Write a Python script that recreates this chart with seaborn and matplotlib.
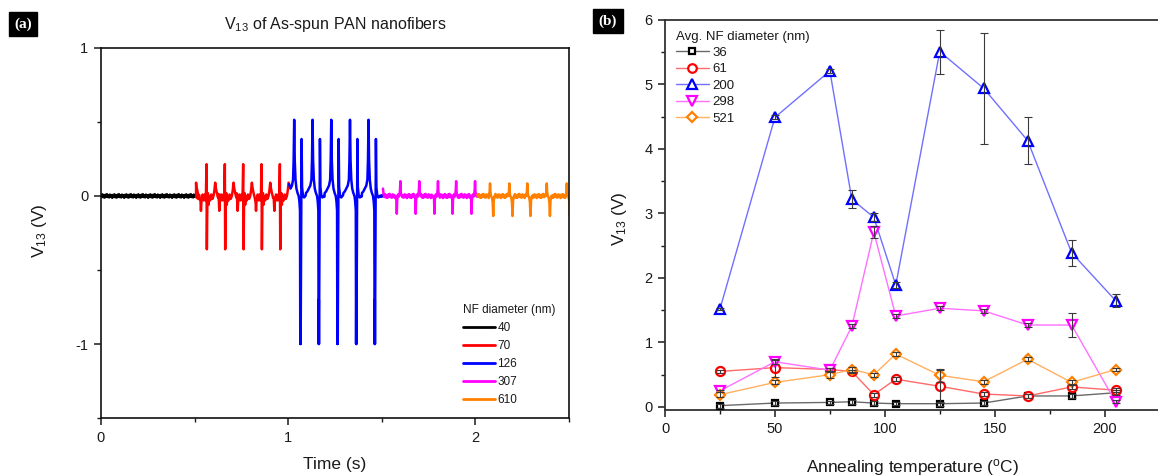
import numpy as np
import pandas as pd
import matplotlib
matplotlib.use("Agg")
import matplotlib.pyplot as plt
from matplotlib.lines import Line2D
from matplotlib.ticker import MultipleLocator
import seaborn as sns

# ---------------- panel (a): V13 traces of as-spun PAN nanofibers ----------------
diameters_a = ["40", "70", "126", "307", "610"]
colors_a = ["#000000", "#ff0000", "#0000ff", "#ff00ff", "#ff8000"]
segment_start = [0.0, 0.508, 1.005, 1.510, 2.011]
segment_end = [0.508, 1.005, 1.510, 2.011, 2.52]
noise_amp = [0.012, 0.028, 0.006, 0.014, 0.014]

spikes_40 = []
spikes_70 = [0.565, 0.663, 0.761, 0.859, 0.957]
spikes_126 = [1.032, 1.130, 1.230, 1.330, 1.429]
spikes_307 = [1.599, 1.700, 1.800, 1.897, 1.998]
spikes_610 = [2.078, 2.181, 2.277, 2.381, 2.488]

# pulse shapes as (time offset from spike, voltage)
pulse_40 = [(0.0, 0.0)]
pulse_70 = [(-0.034, -0.02), (-0.031, -0.10), (-0.028, -0.03), (-0.022, 0.01),
            (-0.016, -0.03), (-0.010, 0.01), (-0.005, -0.03), (-0.0015, 0.215),
            (0.0005, -0.36), (0.003, -0.06), (0.006, 0.02), (0.009, -0.06),
            (0.013, 0.0), (0.018, -0.03), (0.024, 0.01), (0.030, -0.02),
            (0.036, 0.0), (0.041, 0.04), (0.045, 0.09), (0.049, 0.05),
            (0.054, 0.02), (0.060, -0.01)]
pulse_126 = [(-0.035, 0.02), (-0.028, 0.03), (-0.020, 0.05), (-0.012, 0.07),
             (-0.006, 0.11), (-0.003, 0.24), (0.0, 0.515), (0.003, 0.24),
             (0.007, 0.11), (0.012, 0.05), (0.018, 0.02), (0.024, 0.0),
             (0.028, -0.04), (0.031, -0.10), (0.0325, -1.0), (0.0335, -0.70),
             (0.0345, -1.0), (0.037, -0.30), (0.0395, 0.385), (0.042, 0.06),
             (0.047, 0.0), (0.053, -0.01), (0.060, 0.0)]
pulse_307 = [(-0.026, 0.0), (-0.021, -0.02), (-0.019, -0.12), (-0.017, -0.03),
             (-0.013, 0.01), (-0.008, -0.005), (-0.004, 0.015), (-0.0015, 0.05),
             (0.0, 0.10), (0.0015, 0.04), (0.004, 0.01), (0.008, 0.0)]
pulse_610 = [(-0.006, 0.0), (-0.002, 0.03), (0.0, 0.085), (0.002, 0.03),
             (0.005, 0.0), (0.010, -0.01), (0.014, -0.04), (0.017, -0.135),
             (0.020, -0.03), (0.025, 0.0)]

# vertices at the joints between recordings
joint_40 = []
joint_70 = [(0.508, 0.09), (0.512, 0.05), (0.517, 0.01)]
joint_126 = [(1.005, 0.08)]
joint_307 = [(1.506, 0.05)]
joint_610 = []

# baseline ripple of the recordings (relative units)
ripple = [0.6, -0.5, 0.9, -0.7, 0.3, -0.9, 0.7, -0.3, 1.0, -0.6, 0.4, -0.8,
          0.8, -0.4, 0.5, -1.0]

# ---------------- panel (b): V13 vs annealing temperature ----------------
temps = [25, 50, 75, 85, 95, 105, 125, 145, 165, 185, 205]
v_36 = [0.02, 0.06, 0.07, 0.08, 0.06, 0.05, 0.05, 0.06, 0.17, 0.17, 0.22]
v_61 = [0.55, 0.61, 0.58, 0.55, 0.19, 0.43, 0.32, 0.20, 0.17, 0.31, 0.26]
v_200 = [1.52, 4.49, 5.21, 3.22, 2.94, 1.89, 5.51, 4.94, 4.13, 2.39, 1.65]
v_298 = [0.25, 0.70, 0.57, 1.25, 2.71, 1.41, 1.53, 1.49, 1.27, 1.27, 0.08]
v_521 = [0.19, 0.38, 0.50, 0.58, 0.50, 0.82, 0.49, 0.39, 0.74, 0.38, 0.58]
e_36 = [0.03, 0.03, 0.02, 0.03, 0.03, 0.02, 0.03, 0.03, 0.03, 0.03, 0.04]
e_61 = [0.03, 0.14, 0.03, 0.03, 0.03, 0.03, 0.26, 0.03, 0.03, 0.03, 0.03]
e_200 = [0.02, 0.03, 0.03, 0.14, 0.06, 0.04, 0.34, 0.86, 0.37, 0.20, 0.10]
e_298 = [0.02, 0.03, 0.03, 0.03, 0.09, 0.03, 0.03, 0.03, 0.03, 0.18, 0.02]
e_521 = [0.04, 0.03, 0.05, 0.04, 0.03, 0.03, 0.10, 0.03, 0.03, 0.03, 0.03]
diameters_b = ["36", "61", "200", "298", "521"]
edge_b = ["#000000", "#ff0000", "#0000ff", "#ff00ff", "#ff8000"]
line_b = ["#6a6a6a", "#ff6a6a", "#7070ff", "#ff70ff", "#ffb060"]
markers_b = ["s", "o", "^", "v", "D"]
msize_b = [5.0, 6.5, 7.5, 7.5, 5.6]

sns.set_theme(style="ticks")
plt.rcParams["font.family"] = ["Liberation Sans", "DejaVu Sans"]
plt.rcParams["mathtext.fontset"] = "custom"
plt.rcParams["mathtext.rm"] = "Liberation Sans"
plt.rcParams["mathtext.it"] = "Liberation Sans:italic"
plt.rcParams["mathtext.default"] = "regular"
plt.rcParams["text.color"] = "#1a1a1a"
plt.rcParams["axes.labelcolor"] = "#1a1a1a"
plt.rcParams["xtick.color"] = "#1a1a1a"
plt.rcParams["ytick.color"] = "#1a1a1a"


def build_trace(start, end, spikes, pulse, amp, joint):
    offs = [o for o, _ in pulse]
    lo, hi = min(offs), max(offs)
    pts = []
    for i, t in enumerate(np.arange(start, end, 0.004)):
        if any(s + lo <= t <= s + hi for s in spikes):
            continue
        pts.append((t, amp * ripple[i % len(ripple)]))
    for s in spikes:
        pts += [(s + o, v) for o, v in pulse if start <= s + o <= end]
    pts += list(joint)
    pts.sort()
    return pts


spike_sets = [spikes_40, spikes_70, spikes_126, spikes_307, spikes_610]
pulses = [pulse_40, pulse_70, pulse_126, pulse_307, pulse_610]
joints = [joint_40, joint_70, joint_126, joint_307, joint_610]
frames = []
for k, name in enumerate(diameters_a):
    pts = build_trace(segment_start[k], segment_end[k], spike_sets[k], pulses[k],
                      noise_amp[k], joints[k])
    frames.append(pd.DataFrame({"t": [p[0] for p in pts],
                                "v": [p[1] for p in pts],
                                "d": name}))
df_a = pd.concat(frames, ignore_index=True)

fig = plt.figure(figsize=(11.58, 4.76), dpi=100)
axA = fig.add_axes([0.0872, 0.1218, 0.4042, 0.7774])
axB = fig.add_axes([0.5743, 0.1397, 0.4270, 0.8183])

sns.lineplot(data=df_a, x="t", y="v", hue="d", hue_order=diameters_a,
             palette=colors_a, estimator=None, sort=False, lw=1.8,
             legend=False, ax=axA)
axA.set_xlim(0, 2.5)
axA.set_ylim(-1.5, 1)
axA.set_xticks([0, 1, 2])
axA.set_xticklabels(["0", "1", "2"])
axA.xaxis.set_minor_locator(MultipleLocator(0.5))
axA.set_yticks([-1, 0, 1])
axA.set_yticklabels(["-1", "0", "1"])
axA.yaxis.set_minor_locator(MultipleLocator(0.5))
axA.set_xlabel("Time (s)", fontsize=12.5)
axA.set_ylabel(r"V$_{13}$ (V)", fontsize=12.5)
axA.xaxis.set_label_coords(0.5, -0.104)
axA.yaxis.set_label_coords(-0.11, 0.505)
axA.set_title(r"V$_{13}$ of As-spun PAN nanofibers", fontsize=11.5, pad=14)
for sp in axA.spines.values():
    sp.set_linewidth(1.2)
    sp.set_color("#111111")
axA.tick_params(which="major", direction="out", length=5, width=1.1,
                labelsize=10.5, pad=4)
axA.tick_params(which="minor", direction="out", length=3, width=1.0)

handles_a = [Line2D([], [], color=c, lw=2.0) for c in colors_a]
legA = axA.legend(handles_a, diameters_a, title="NF diameter (nm)",
                  frameon=False, loc="lower left",
                  bbox_to_anchor=(0.755, 0.011), fontsize=8.5,
                  title_fontsize=8.5, handlelength=2.7, handletextpad=0.25,
                  labelspacing=0.5, alignment="left", borderaxespad=0.3)

# ---- panel (b)
series_v = [v_36, v_61, v_200, v_298, v_521]
series_e = [e_36, e_61, e_200, e_298, e_521]
for k in range(5):
    sns.lineplot(x=temps, y=series_v[k], ax=axB, color=line_b[k], lw=1.0,
                 marker=markers_b[k], ms=msize_b[k], mec=edge_b[k],
                 mfc="white", mew=1.6, errorbar=None, zorder=3 + k * 0.1)
    axB.errorbar(temps, series_v[k], yerr=series_e[k], fmt="none",
                 ecolor="#3a3a3a", elinewidth=0.8, capsize=3, capthick=0.8,
                 zorder=4)

axB.set_xlim(0, 225)
axB.set_ylim(-0.04, 6)
axB.set_xticks([0, 50, 100, 150, 200])
axB.xaxis.set_minor_locator(MultipleLocator(25))
axB.set_yticks([0, 1, 2, 3, 4, 5, 6])
axB.yaxis.set_minor_locator(MultipleLocator(0.5))
axB.set_xlabel(r"Annealing temperature ($^{\mathrm{o}}$C)", fontsize=12.5)
axB.set_ylabel(r"V$_{13}$ (V)", fontsize=12.5)
axB.xaxis.set_label_coords(0.5, -0.121)
axB.yaxis.set_label_coords(-0.072, 0.49)
for sp in axB.spines.values():
    sp.set_linewidth(1.3)
    sp.set_color("#333333")
axB.tick_params(which="major", direction="out", length=5, width=1.1,
                labelsize=10.5, pad=4)
axB.tick_params(which="minor", direction="out", length=3, width=1.0)

handles_b = [Line2D([], [], color=line_b[k], lw=1.0, marker=markers_b[k],
                    ms=msize_b[k] * 0.95, mec=edge_b[k], mfc="white", mew=1.6)
             for k in range(5)]
legB = axB.legend(handles_b, diameters_b, title="Avg. NF diameter (nm)",
                  frameon=False, loc="upper left",
                  bbox_to_anchor=(0.0, 1.0), fontsize=9.5,
                  title_fontsize=9.5, handlelength=2.5, handletextpad=0.3,
                  labelspacing=0.32, alignment="left", borderaxespad=0.4)

# panel tags
tag_style = dict(color="white", fontsize=11, fontweight="bold",
                 family="Liberation Serif", ha="center", va="center",
                 bbox=dict(boxstyle="square,pad=0.35", fc="black", ec="black"))
fig.text(23 / 1158, 1 - 24 / 476, "(a)", **tag_style)
fig.text(608 / 1158, 1 - 21 / 476, "(b)", **tag_style)

fig.savefig("out.png", dpi=100)
